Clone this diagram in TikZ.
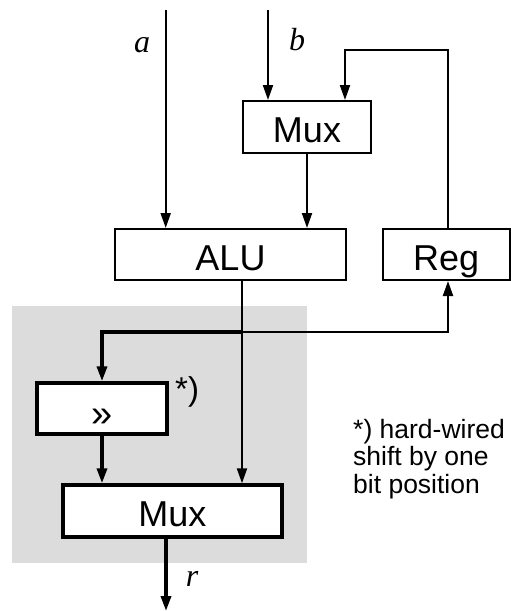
\documentclass[tikz,border=0pt]{standalone}
\usepackage{fontspec}
\setmainfont{Liberation Sans}
\newfontfamily\serifit{Liberation Serif}
\usetikzlibrary{arrows.meta}
\definecolor{bggray}{RGB}{220,220,220}
\tikzset{
  thinline/.style={line width=2pt},
  thickline/.style={line width=3.4pt},
  tip/.style={-{Triangle[length=15pt,width=10pt]}},
  blockbox/.style={draw, fill=white, inner sep=0pt, font=\fontsize{36}{40}\selectfont,
                   text height=31pt, text depth=0pt},
  thinbox/.style={blockbox, thinline},
  thickbox/.style={blockbox, thickline},
  varlabel/.style={font=\fontsize{32}{36}\serifit\itshape, anchor=base, inner sep=0pt},
  notetext/.style={font=\fontsize{26.5}{28}\selectfont, anchor=base west, inner sep=0pt},
}
\begin{document}
\begin{tikzpicture}[x=1pt,y=-1pt]
\useasboundingbox (0,0) rectangle (511,611);
\fill[bggray] (12,306) rectangle (307,563);
% boxes
\node[thinbox, minimum width=128pt, minimum height=52pt] (mux1) at (307,127) {Mux};
\node[thinbox, minimum width=231pt, minimum height=51pt] (alu) at (230.5,254.5) {ALU};
\node[thinbox, minimum width=126.5pt, minimum height=51pt] (reg) at (446.25,254.5) {Reg};
\node[thickbox, minimum width=130pt, minimum height=51pt] (shift) at (102,408.5) {};
\node[inner sep=0pt, anchor=base, font=\fontsize{38}{40}\selectfont] (shifttxt) at (102,426) {»};
\node[thickbox, minimum width=219pt, minimum height=52pt] (mux2) at (172.5,511) {Mux};
% coordinates
\coordinate (ain) at (165.7,10);
\coordinate (bin) at (268,10);
\coordinate (fbtop) at (448,50);
\coordinate (fbleft) at (345,50);
\coordinate (junc) at (242,332);
\coordinate (jleft) at (102,332);
\coordinate (jright) at (448,332);
\coordinate (rout) at (166,611);
% connectors
\draw[thinline, tip] (ain) -- (ain |- alu.north);
\draw[thinline, tip] (bin) -- (bin |- mux1.north);
\draw[thinline, tip] (mux1.south) -- (mux1.south |- alu.north);
\draw[thinline, tip] (fbtop |- reg.north) -- (fbtop) -- (fbleft) -- (fbleft |- mux1.north);
\draw[thinline, tip] (junc |- alu.south) -- (junc |- mux2.north);
\draw[thinline, tip] (junc) -- (jright) -- (jright |- reg.south);
\draw[thickline, tip] (junc) -- (jleft) -- (jleft |- shift.north);
\draw[thickline, tip] (jleft |- shift.south) -- (jleft |- mux2.north);
\draw[thickline, tip] (rout |- mux2.south) -- (rout);
% labels
\node[varlabel] (la) at (142,52) {a};
\node[varlabel] (lb) at (297,50) {b};
\node[varlabel] (lr) at (192,586) {r};
\node[notetext, font=\fontsize{33}{36}\selectfont] (star) at (175,400) {*)};
\node[notetext] (n1) at (353,438) {*) hard-wired};
\node[notetext] (n2) at (353,465.5) {shift by one};
\node[notetext] (n3) at (353,493) {bit position};
\end{tikzpicture}
\end{document}
